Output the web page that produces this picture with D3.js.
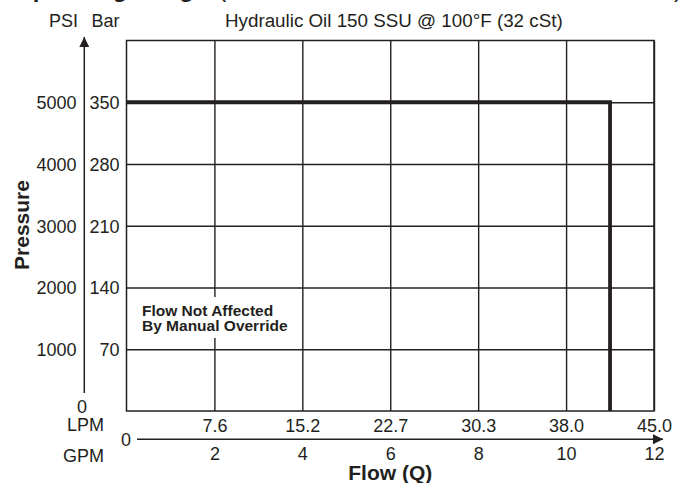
<!DOCTYPE html>
<html>
<head>
<meta charset="utf-8">
<script src="https://cdn.jsdelivr.net/npm/d3@7"></script>
<style>
  html, body { margin: 0; padding: 0; background: #fff; }
  svg { display: block; }
  text { font-family: "Liberation Sans", Arial, Helvetica, sans-serif; fill: #231f20; }
</style>
</head>
<body>
<svg id="chart" width="687" height="483"></svg>
<script>
// ---- data ----
const gpmTicks = [2, 4, 6, 8, 10, 12];
const gpmLabels = ["2", "4", "6", "8", "10", "12"];
const lpmLabels = ["7.6", "15.2", "22.7", "30.3", "38.0", "45.0"];
const barTicks = [70, 140, 210, 280, 350];
const barLabels = ["70", "140", "210", "280", "350"];
const psiLabels = ["1000", "2000", "3000", "4000", "5000"];
const curveFlowGpm = [0, 11, 11];
const curvePressureBar = [350, 350, 0];
const subtitle = "Hydraulic Oil 150 SSU @ 100°F (32 cSt)";
const noteLines = ["Flow Not Affected", "By Manual Override"];

// ---- layout ----
const svg = d3.select("#chart");
const ink = "#231f20";
const x = d3.scaleLinear().domain([0, 12]).range([126.5, 654]);
const y = d3.scaleLinear().domain([0, 420]).range([411, 40.5]);
const [x0, x1] = x.range();
const [y0, y1] = y.range();

// cropped title (only descenders visible)
svg.append("text").attr("x", 14).attr("y", -3.5)
  .style("font-weight", "bold").style("font-size", "24px").text("Operating Range");
svg.append("text").attr("x", 218).attr("y", -3.5)
  .style("font-size", "25px").text("(");
svg.append("text").attr("x", 674).attr("y", -3.5)
  .style("font-size", "25px").text(")");

// subtitle + unit headers
svg.append("text").attr("x", 225).attr("y", 26.5).style("font-size", "18.8px").text(subtitle);
svg.append("text").attr("x", 78).attr("y", 26.5).attr("text-anchor", "end").style("font-size", "18px").text("PSI");
svg.append("text").attr("x", 119.5).attr("y", 26.5).attr("text-anchor", "end").style("font-size", "18px").text("Bar");

// horizontal grid + bar labels
const yAxis = d3.axisLeft(y).tickValues(barTicks)
  .tickFormat((d, i) => barLabels[i])
  .tickSize(-(x1 - x0)).tickPadding(7);
const gy = svg.append("g").attr("transform", `translate(${x0},0)`).call(yAxis);
gy.select(".domain").remove();
gy.selectAll(".tick line").attr("stroke", ink).attr("stroke-width", 1.4);
gy.selectAll(".tick text").style("font-size", "18px").attr("fill", ink).attr("dy", "0.36em");

// PSI labels
const psiAxis = d3.axisLeft(y).tickValues(barTicks)
  .tickFormat((d, i) => psiLabels[i]).tickSize(0).tickPadding(0);
const gp = svg.append("g").attr("transform", "translate(76.5,0)").call(psiAxis);
gp.select(".domain").remove();
gp.selectAll(".tick text").style("font-size", "18px").attr("fill", ink).attr("dy", "0.36em");

// vertical grid + LPM labels
const xGrid = d3.axisBottom(x).tickValues(gpmTicks)
  .tickFormat((d, i) => lpmLabels[i])
  .tickSize(-(y0 - y1)).tickPadding(0);
const gx = svg.append("g").attr("transform", `translate(0,${y0})`).call(xGrid);
gx.select(".domain").remove();
gx.selectAll(".tick line").attr("stroke", ink).attr("stroke-width", 1.4);
gx.selectAll(".tick text").style("font-size", "18px").attr("fill", ink)
  .attr("y", 20.7).attr("dy", 0);

// plot frame
svg.append("rect").attr("x", x0).attr("y", y1).attr("width", x1 - x0).attr("height", y0 - y1)
  .attr("fill", "none").attr("stroke", ink).attr("stroke-width", 1.5);

// note with white backing
svg.append("rect").attr("x", 138).attr("y", 297).attr("width", 158).attr("height", 41).attr("fill", "#fff");
svg.append("text").attr("x", 142).attr("y", 316).style("font-size", "15.5px").style("font-weight", "bold")
  .selectAll("tspan").data(noteLines).join("tspan")
  .attr("x", 142).attr("dy", (d, i) => i === 0 ? 0 : 15.4).text(d => d);

// performance curve
const pts = curveFlowGpm.map((f, i) => [f, curvePressureBar[i]]);
svg.append("path").datum(pts)
  .attr("d", d3.line().x(d => x(d[0])).y(d => y(d[1])))
  .attr("fill", "none").attr("stroke", ink).attr("stroke-width", 3.8)
  .attr("stroke-linejoin", "miter");

// arrow marker
const defs = svg.append("defs");
defs.append("marker").attr("id", "arrow").attr("viewBox", "0 0 10 10")
  .attr("refX", 10).attr("refY", 5).attr("markerWidth", 10).attr("markerHeight", 10)
  .attr("markerUnits", "userSpaceOnUse").attr("orient", "auto")
  .append("path").attr("d", "M0,0 L10,5 L0,10 Z").attr("fill", ink);

// y arrow
svg.append("line").attr("x1", 84.3).attr("x2", 84.3).attr("y1", 393).attr("y2", 37)
  .attr("stroke", ink).attr("stroke-width", 1.5).attr("marker-end", "url(#arrow)");
// x arrow
svg.append("line").attr("x1", 137).attr("x2", 663).attr("y1", 439.3).attr("y2", 439.3)
  .attr("stroke", ink).attr("stroke-width", 1.5).attr("marker-end", "url(#arrow)");

// GPM labels
const gpmAxis = d3.axisBottom(x).tickValues(gpmTicks)
  .tickFormat((d, i) => gpmLabels[i]).tickSize(0).tickPadding(0);
const gg = svg.append("g").attr("transform", "translate(0,439.3)").call(gpmAxis);
gg.select(".domain").remove();
gg.selectAll(".tick text").style("font-size", "18px").attr("fill", ink).attr("y", 20.5).attr("dy", 0);

// zeros and unit names
svg.append("text").attr("x", 82).attr("y", 412.5).attr("text-anchor", "middle").style("font-size", "18px").text("0");
svg.append("text").attr("x", 104).attr("y", 431).attr("text-anchor", "end").style("font-size", "18px").text("LPM");
svg.append("text").attr("x", 104).attr("y", 461.5).attr("text-anchor", "end").style("font-size", "18px").text("GPM");
svg.append("text").attr("x", 126).attr("y", 445.8).attr("text-anchor", "middle").style("font-size", "18px").text("0");

// axis titles
svg.append("text").attr("x", x(6)).attr("y", 479.5).attr("text-anchor", "middle")
  .style("font-size", "21px").style("font-weight", "bold").text("Flow (Q)");
svg.append("text").attr("transform", "translate(29,225) rotate(-90)").attr("text-anchor", "middle")
  .style("font-size", "21px").style("font-weight", "bold").text("Pressure");
</script>
</body>
</html>
